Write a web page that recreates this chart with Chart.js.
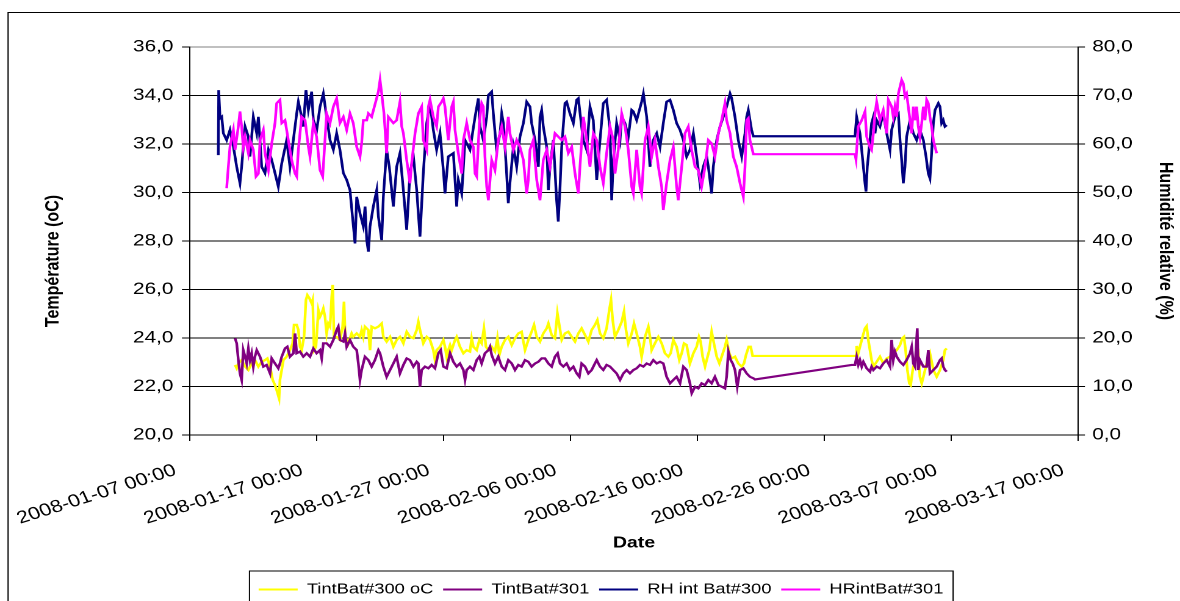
<!DOCTYPE html>
<html>
<head>
<meta charset="utf-8">
<script src="https://cdn.jsdelivr.net/npm/chart.js@4.4.0/dist/chart.umd.min.js"></script>
<style>
html,body{margin:0;padding:0;background:#fff;overflow:hidden;width:1180px;height:601px;}
#wrap{position:absolute;left:0;top:0;width:967px;height:601px;transform:scaleX(1.22027);transform-origin:0 0;}
</style>
</head>
<body>
<div id="wrap"><canvas id="c"></canvas></div>
<script>
// ---------------- data (x = days since 2008-01-07 00:00) ----------------
const xTickLabels = ['2008-01-07 00:00','2008-01-17 00:00','2008-01-27 00:00','2008-02-06 00:00','2008-02-16 00:00','2008-02-26 00:00','2008-03-07 00:00','2008-03-17 00:00'];
const seriesNames = ['TintBat#300 oC','TintBat#301','RH int Bat#300','HRintBat#301'];

const tint300 = [[3.55,22.89],[3.68,22.75],[3.81,22.95],[4.07,23.09],[4.34,22.82],[4.60,22.68],[4.86,22.95],[5.12,23.09],[5.39,22.82],[5.65,23.02],[5.91,23.09],[6.10,23.16],[6.31,22.82],[6.52,22.27],[6.70,22.06],[6.83,21.85],[7.02,21.51],[7.09,22.27],[7.23,22.68],[7.36,23.09],[7.62,23.23],[7.88,23.50],[8.09,23.78],[8.20,24.54],[8.41,24.54],[8.54,24.33],[8.67,23.64],[8.80,23.50],[8.99,24.05],[9.14,25.57],[9.25,25.77],[9.41,25.64],[9.59,25.43],[9.67,25.57],[9.78,23.50],[9.93,23.64],[10.12,25.15],[10.25,24.88],[10.38,25.02],[10.51,25.22],[10.64,24.88],[10.77,24.19],[10.90,24.60],[11.04,24.47],[11.17,25.70],[11.25,26.19],[11.35,24.05],[11.56,24.05],[11.82,23.92],[12.03,24.47],[12.14,25.50],[12.24,24.05],[12.48,23.78],[12.74,24.19],[12.87,24.05],[13.14,24.19],[13.40,24.05],[13.53,24.33],[13.66,24.05],[13.79,24.47],[14.06,24.33],[14.19,23.50],[14.32,24.47],[14.58,24.40],[14.85,24.47],[15.11,24.60],[15.24,24.05],[15.50,23.85],[15.77,24.05],[16.03,23.64],[16.29,23.92],[16.55,24.05],[16.82,23.78],[17.08,24.26],[17.34,24.05],[17.61,23.99],[17.87,24.33],[18.00,24.67],[18.13,24.33],[18.39,23.78],[18.66,24.05],[18.92,23.92],[19.18,23.50],[19.31,23.09],[19.44,23.50],[19.71,23.64],[19.97,23.92],[20.10,23.64],[20.23,23.23],[20.36,23.50],[20.50,23.71],[20.63,23.50],[20.89,23.92],[21.02,24.05],[21.28,23.64],[21.55,23.37],[21.81,23.50],[22.07,23.44],[22.20,23.99],[22.34,23.64],[22.60,23.50],[22.81,23.92],
[22.99,23.78],[23.17,24.40],[23.33,23.64],[23.52,23.50],[23.78,23.64],[24.04,23.44],[24.23,23.99],[24.38,23.30],[24.57,23.64],[24.83,23.92],[25.09,24.05],[25.36,23.71],[25.62,23.99],[25.88,24.19],[26.14,24.26],[26.28,23.85],[26.41,23.50],[26.67,23.92],[26.93,24.26],[27.12,24.54],[27.33,24.05],[27.59,23.85],[27.85,24.19],[28.12,24.40],[28.25,24.60],[28.51,24.12],[28.77,23.99],[28.96,25.02],[29.11,24.54],[29.30,23.92],[29.56,24.19],[29.82,24.26],[30.09,24.05],[30.35,23.85],[30.61,24.19],[30.87,24.40],[31.14,24.12],[31.40,23.85],[31.66,24.33],[31.92,24.54],[32.11,24.74],[32.32,24.19],[32.58,23.99],[32.84,24.40],[33.05,25.15],[33.19,25.57],[33.32,24.74],[33.50,24.05],[33.76,24.33],[34.03,24.67],[34.21,25.09],[34.37,24.33],[34.55,23.78],[34.82,24.19],[35.00,24.60],[35.21,24.19],[35.47,23.64],[35.60,23.23],[35.87,24.05],[36.13,24.47],[36.26,24.05],[36.39,23.50],[36.65,23.78],[36.92,24.05],[37.18,23.78],[37.44,23.37],[37.71,23.23],[37.89,23.37],[38.10,23.92],[38.36,23.64],[38.57,23.09],[38.76,23.37],[38.94,23.78],[39.15,23.71],[39.41,22.95],[39.68,23.37],[39.94,23.64],[40.12,24.05],[40.25,23.85],[40.41,23.23],[40.60,22.82],[40.73,23.09],[40.94,23.50],[41.12,24.26],[41.30,23.78],[41.52,23.23],[41.73,22.95],[41.91,23.23],[42.17,23.64],[42.30,23.92],[42.51,23.37],[42.70,23.16],[42.96,23.23],[43.22,22.95],[43.49,22.82],[43.67,22.95],[43.83,23.30],[44.04,23.64],[44.20,23.64],[44.35,23.26],
[52.50,23.26],[52.55,23.67],[52.68,23.37],[52.81,23.64],[53.02,24.05],[53.21,24.40],[53.34,24.49],[53.47,23.92],[53.60,23.50],[53.73,23.09],[53.87,22.82],[54.13,23.02],[54.39,23.23],[54.65,22.95],[54.92,23.16],[55.18,23.23],[55.44,23.37],[55.71,23.50],[55.97,23.71],[56.15,23.99],[56.28,24.05],[56.41,23.50],[56.55,22.68],[56.70,22.13],[56.81,22.06],[56.97,22.68],[57.15,23.09],[57.41,23.37],[57.54,22.40],[57.68,22.13],[57.81,22.40],[58.07,22.95],[58.33,23.37],[58.60,22.68],[58.86,22.40],[59.12,22.68],[59.38,23.09],[59.51,23.50],[59.65,23.57]];

const tint301 = [[3.55,23.99],[3.68,23.78],[3.81,23.09],[3.94,22.54],[4.07,22.27],[4.20,23.50],[4.34,23.23],[4.47,22.95],[4.60,23.57],[4.73,23.09],[4.86,23.37],[4.99,22.82],[5.12,23.23],[5.26,23.50],[5.52,23.23],[5.78,22.82],[6.04,22.89],[6.31,22.54],[6.44,23.16],[6.70,22.95],[6.96,22.75],[7.09,22.95],[7.23,23.23],[7.49,23.57],[7.67,23.64],[7.88,23.23],[8.15,23.37],[8.28,24.19],[8.41,23.37],[8.67,23.44],[8.93,23.23],[9.20,23.37],[9.46,23.23],[9.72,23.57],[9.98,23.37],[10.25,23.50],[10.38,23.16],[10.51,23.78],[10.77,23.78],[11.04,23.64],[11.30,23.92],[11.56,24.33],[11.69,24.47],[11.82,23.92],[12.09,23.85],[12.22,24.19],[12.35,23.64],[12.61,23.92],[12.87,23.64],[13.14,23.50],[13.27,22.95],[13.40,22.27],[13.53,22.68],[13.79,23.23],[14.06,23.09],[14.32,22.82],[14.58,23.09],[14.85,23.50],[14.98,23.37],[15.24,22.82],[15.50,22.40],[15.77,22.68],[16.03,22.95],[16.29,23.23],[16.55,22.54],[16.82,22.89],[17.08,23.16],[17.34,23.09],[17.61,22.82],[17.87,23.02],[18.00,22.95],[18.13,21.99],[18.26,22.68],[18.52,22.82],[18.79,22.75],[19.05,22.89],[19.31,22.75],[19.58,23.37],[19.76,23.50],[19.97,22.82],[20.23,22.75],[20.50,23.37],[20.76,23.02],[21.02,22.82],[21.28,22.95],[21.55,22.68],[21.68,22.27],[21.81,22.68],[22.07,22.82],[22.34,22.68],[22.60,23.09],[22.81,23.23],
[22.99,22.95],[23.25,23.37],[23.52,23.50],[23.65,23.64],[23.78,23.30],[24.04,22.95],[24.30,23.23],[24.57,22.82],[24.83,22.68],[25.09,23.09],[25.36,22.95],[25.62,22.68],[25.88,22.89],[26.14,22.82],[26.41,23.09],[26.67,23.02],[26.93,22.82],[27.20,22.95],[27.46,23.02],[27.72,23.16],[27.98,23.16],[28.25,22.95],[28.51,22.82],[28.77,23.23],[28.98,23.37],[29.17,22.95],[29.43,22.82],[29.69,22.95],[29.95,22.68],[30.22,22.82],[30.48,22.54],[30.69,22.40],[30.87,22.95],[31.14,22.82],[31.40,22.54],[31.66,22.68],[31.92,22.95],[32.06,23.09],[32.32,22.82],[32.58,22.68],[32.84,22.89],[33.11,22.82],[33.37,22.68],[33.63,22.54],[33.90,22.27],[34.16,22.54],[34.42,22.68],[34.68,22.54],[34.95,22.68],[35.21,22.75],[35.47,22.89],[35.74,22.82],[36.00,22.95],[36.26,22.89],[36.52,23.09],[36.79,22.95],[37.05,23.02],[37.31,22.95],[37.57,22.40],[37.84,22.13],[38.10,22.27],[38.36,22.40],[38.63,22.13],[38.89,22.82],[39.15,22.68],[39.41,22.13],[39.55,21.72],[39.81,21.99],[40.07,21.92],[40.33,22.13],[40.60,22.06],[40.86,22.27],[41.12,22.13],[41.38,22.40],[41.65,22.06],[41.91,21.99],[42.17,21.92],[42.30,22.40],[42.44,23.44],[42.62,23.09],[42.78,22.95],[42.96,22.68],[43.14,21.99],[43.36,22.68],[43.62,22.75],[43.88,22.54],[44.14,22.40],[44.41,22.34],[44.54,22.29],
[52.16,22.89],[52.42,22.89],[52.55,23.23],[52.68,22.89],[52.81,23.09],[52.95,22.82],[53.08,23.02],[53.34,22.75],[53.60,22.61],[53.73,22.82],[53.87,22.68],[54.13,22.82],[54.39,22.75],[54.65,22.95],[54.92,23.09],[55.18,22.82],[55.31,23.92],[55.44,23.09],[55.57,23.44],[55.71,23.23],[55.97,23.02],[56.23,22.89],[56.49,23.09],[56.76,23.37],[56.89,23.64],[57.02,22.95],[57.15,22.82],[57.33,24.40],[57.41,22.68],[57.54,23.09],[57.81,22.82],[58.07,22.82],[58.20,23.50],[58.33,22.54],[58.60,22.68],[58.86,22.82],[59.12,23.09],[59.25,23.16],[59.38,22.82],[59.51,22.68],[59.65,22.61]];

const rh300 = [[2.23,57.7],[2.26,71.1],[2.37,65.3],[2.50,65.6],[2.63,62.2],[2.89,60.8],[3.15,62.9],[3.42,59.5],[3.68,55.3],[3.94,51.9],[4.07,55.3],[4.34,63.6],[4.60,61.5],[4.73,57.4],[4.99,65.6],[5.26,62.2],[5.39,65.6],[5.65,55.3],[5.91,54.0],[6.18,58.8],[6.44,56.7],[6.70,54.0],[6.96,51.2],[7.23,56.0],[7.62,60.8],[7.88,55.3],[8.28,63.6],[8.41,66.3],[8.54,68.7],[8.80,65.6],[8.93,63.6],[9.14,71.1],[9.33,67.0],[9.59,70.8],[9.72,65.0],[9.99,62.9],[10.25,67.7],[10.51,70.4],[10.77,65.6],[11.04,60.8],[11.30,58.8],[11.56,62.2],[11.82,58.8],[12.09,54.0],[12.35,52.6],[12.61,50.5],[12.88,43.0],[13.01,39.5],[13.14,49.1],[13.40,45.7],[13.66,43.0],[13.80,47.1],[13.93,40.2],[14.06,37.8],[14.19,43.0],[14.45,47.1],[14.72,50.5],[14.85,45.0],[15.11,40.2],[15.24,49.1],[15.50,58.8],[15.71,55.3],[16.03,47.1],[16.29,55.3],[16.55,58.1],[16.82,50.5],[17.08,42.3],[17.34,54.0],[17.61,57.4],[17.87,50.5],[18.13,40.9],[18.39,54.0],[18.66,64.3],[18.92,68.4],[19.18,62.9],[19.44,58.8],[19.71,62.2],[19.97,54.6],[20.10,49.8],[20.36,57.4],[20.76,58.1],[21.02,47.1],[21.15,52.6],[21.42,49.8],[21.68,60.8],[22.07,58.8],[22.47,65.6],[22.73,69.4],
[22.86,63.6],[23.12,60.8],[23.39,65.6],[23.52,70.1],[23.78,70.8],[23.91,66.3],[24.17,58.8],[24.44,62.2],[24.57,66.3],[24.70,64.3],[24.83,59.4],[24.96,53.9],[25.09,47.8],[25.22,51.9],[25.49,59.4],[25.75,55.3],[26.01,61.5],[26.28,64.3],[26.54,68.7],[26.80,67.7],[26.93,64.3],[27.20,60.8],[27.46,55.3],[27.59,65.6],[27.72,67.0],[27.85,63.6],[28.12,59.4],[28.25,50.5],[28.38,55.3],[28.64,60.8],[28.90,48.4],[29.03,44.0],[29.17,51.2],[29.30,59.4],[29.56,68.4],[29.69,68.7],[29.95,66.3],[30.22,64.3],[30.48,69.1],[30.61,69.4],[30.87,63.6],[31.01,60.8],[31.27,58.8],[31.53,67.7],[31.79,64.9],[32.06,52.6],[32.32,60.8],[32.58,68.4],[32.84,69.1],[33.11,62.9],[33.24,48.4],[33.37,56.7],[33.63,64.3],[33.90,60.8],[34.03,65.6],[34.29,64.3],[34.55,61.5],[34.82,67.0],[34.95,66.7],[35.21,64.9],[35.60,68.7],[35.74,70.4],[36.00,65.6],[36.26,55.3],[36.52,60.8],[36.79,62.2],[37.05,59.4],[37.31,64.3],[37.57,68.7],[37.84,69.1],[38.10,67.0],[38.36,64.3],[38.63,62.9],[38.89,60.8],[39.15,57.4],[39.41,58.8],[39.68,62.2],[39.94,57.4],[40.20,51.9],[40.46,55.3],[40.73,57.4],[40.86,55.3],[41.12,49.8],[41.25,55.3],[41.52,60.8],[41.78,63.6],[42.04,65.6],[42.30,67.7],[42.57,70.4],[42.70,69.4],[42.96,65.6],[43.22,60.8],[43.49,57.4],[43.75,62.2],[43.88,65.6],[44.01,67.0],[44.27,62.9],[44.41,61.6],
[52.42,61.6],[52.55,65.6],[52.81,62.2],[52.95,58.8],[53.08,55.3],[53.21,51.9],[53.29,50.2],[53.39,55.3],[53.60,60.8],[53.73,64.3],[53.87,65.6],[54.00,62.2],[54.13,64.9],[54.39,63.6],[54.65,66.3],[54.92,62.2],[55.18,58.8],[55.31,62.9],[55.57,65.6],[55.84,66.3],[55.97,60.8],[56.10,56.7],[56.23,51.9],[56.36,55.3],[56.49,61.5],[56.76,64.9],[57.02,62.2],[57.28,60.8],[57.54,62.9],[57.81,60.8],[58.02,57.4],[58.20,53.9],[58.33,52.9],[58.46,58.1],[58.60,64.3],[58.73,67.0],[58.99,68.4],[59.12,67.7],[59.25,64.3],[59.38,64.9],[59.51,63.6],[59.65,63.9]];

const hr301 = [[2.89,50.9],[3.02,55.3],[3.15,59.4],[3.42,62.9],[3.55,58.8],[3.81,63.6],[3.94,66.7],[4.07,63.6],[4.20,59.4],[4.34,61.5],[4.60,58.1],[4.73,60.8],[4.99,58.8],[5.20,53.3],[5.39,53.9],[5.52,60.8],[5.78,62.9],[5.91,58.1],[6.18,54.6],[6.44,60.1],[6.70,64.3],[6.83,68.4],[7.09,69.1],[7.23,64.3],[7.49,64.9],[7.75,60.8],[8.01,56.7],[8.28,53.9],[8.41,53.3],[8.54,58.8],[8.80,65.6],[9.07,64.9],[9.33,59.4],[9.46,57.4],[9.72,64.3],[9.98,61.5],[10.25,54.6],[10.46,53.3],[10.64,60.8],[10.77,66.3],[11.04,64.3],[11.30,67.7],[11.56,69.4],[11.82,64.3],[12.09,65.6],[12.35,62.9],[12.61,66.3],[12.87,64.3],[13.14,59.4],[13.40,57.4],[13.53,60.1],[13.66,64.9],[13.93,64.9],[14.06,66.3],[14.32,65.6],[14.71,69.4],[14.85,70.8],[14.98,73.2],[15.11,70.4],[15.29,66.3],[15.50,58.1],[15.63,65.6],[16.03,64.3],[16.29,64.9],[16.55,68.7],[16.69,63.6],[16.82,62.2],[17.08,56.7],[17.34,51.9],[17.47,56.0],[17.74,62.2],[18.00,66.3],[18.26,67.7],[18.39,60.8],[18.66,58.8],[18.79,67.7],[18.92,69.1],[19.18,65.6],[19.44,63.6],[19.58,67.7],[19.84,68.7],[19.97,69.4],[20.10,67.7],[20.36,60.8],[20.63,67.7],[20.76,68.7],[20.89,62.9],[21.15,58.1],[21.42,53.9],[21.55,60.8],[21.81,64.3],[22.07,60.8],[22.34,59.4],[22.47,53.9],[22.60,53.3],[22.81,64.3],
[22.99,68.4],[23.12,67.7],[23.25,57.4],[23.39,51.2],[23.52,48.4],[23.78,56.7],[24.04,54.6],[24.30,60.8],[24.57,63.6],[24.83,59.4],[25.09,65.6],[25.22,62.2],[25.49,58.8],[25.75,60.8],[26.01,59.4],[26.28,56.7],[26.54,49.8],[26.67,52.6],[26.80,58.8],[27.06,60.8],[27.33,52.6],[27.59,48.4],[27.85,56.7],[28.12,58.8],[28.38,55.3],[28.64,60.1],[28.77,62.2],[29.03,61.5],[29.30,60.8],[29.56,61.5],[29.82,58.1],[30.09,59.4],[30.35,53.9],[30.61,49.8],[30.74,55.3],[31.01,65.6],[31.27,60.8],[31.53,55.3],[31.79,62.2],[32.06,60.8],[32.32,55.3],[32.58,51.9],[32.84,58.1],[33.11,63.6],[33.37,60.8],[33.50,53.9],[33.76,58.8],[34.03,66.3],[34.29,63.6],[34.55,58.8],[34.82,51.2],[34.95,49.8],[35.21,58.8],[35.47,51.2],[35.60,49.8],[35.87,60.8],[36.13,63.6],[36.39,57.4],[36.65,60.8],[36.92,55.3],[37.18,51.2],[37.31,46.4],[37.57,51.9],[37.84,56.7],[38.10,59.4],[38.36,51.2],[38.49,48.4],[38.76,55.3],[39.02,62.2],[39.28,63.6],[39.54,58.8],[39.81,55.3],[40.07,54.6],[40.33,51.2],[40.60,55.3],[40.86,60.8],[41.12,60.1],[41.38,57.4],[41.65,62.2],[41.91,64.9],[42.17,68.4],[42.30,64.9],[42.57,62.2],[42.83,57.4],[43.09,55.3],[43.36,51.9],[43.62,49.1],[43.75,55.3],[43.88,64.9],[44.01,65.3],[44.14,60.8],[44.41,57.9],
[52.42,57.9],[52.50,56.8],[52.68,63.6],[52.95,64.9],[53.21,66.7],[53.34,61.5],[53.60,59.4],[53.73,58.8],[53.87,62.2],[54.00,66.3],[54.13,68.7],[54.39,64.9],[54.65,67.0],[54.79,64.3],[54.92,62.2],[55.05,69.1],[55.31,67.7],[55.44,65.6],[55.57,67.7],[55.71,65.6],[55.84,70.4],[55.97,71.8],[56.10,73.2],[56.23,72.5],[56.36,69.8],[56.49,70.4],[56.62,67.7],[56.76,64.9],[56.89,62.2],[57.02,67.7],[57.15,64.9],[57.28,67.7],[57.41,63.6],[57.54,61.5],[57.68,64.3],[57.81,67.7],[57.94,64.9],[58.07,69.1],[58.20,68.4],[58.33,65.6],[58.46,63.6],[58.60,60.8],[58.73,59.4],[58.86,58.1]];

// ---------------- layout (internal, pre-stretch px) ----------------
const FONT = "'Liberation Sans', Arial, Helvetica, sans-serif";
const W = 967, PLOT_LEFT = 155.7, PLOT_RIGHT = 883.4, PLOT_TOP = 47, PLOT_BOTTOM = 435;
const PAD_LEFT = 18, PAD_BOTTOM = -6;

const toPoints = pairs => pairs.map(p => ({x: p[0], y: p[1]}));
const comma = v => Number(v).toFixed(1).replace('.', ',');

const framePlugin = {
  id: 'frame',
  afterDraw(chart) {
    const ctx = chart.ctx;
    ctx.save();
    ctx.strokeStyle = '#000';
    ctx.lineWidth = 1;
    ctx.beginPath();
    ctx.moveTo(6.6, chart.height + 10);
    ctx.lineTo(6.6, 12.5);
    ctx.lineTo(chart.width + 10, 12.5);
    ctx.stroke();
    const hb = chart.legend && chart.legend.legendHitBoxes;
    if (hb && hb.length) {
      const first = hb[0], last = hb[hb.length - 1];
      const l = first.left - 7.5, r = last.left + last.width + 8, t = first.top - 11;
      ctx.strokeRect(l, t, r - l, chart.height + 20 - t);
    }
    ctx.restore();
  }
};

Chart.defaults.font.family = FONT;
Chart.defaults.color = '#000';

new Chart(document.getElementById('c'), {
  type: 'line',
  data: {
    datasets: [
      {label: seriesNames[0], data: toPoints(tint300), borderColor: '#FFFF00', backgroundColor: '#FFFF00', yAxisID: 'y', order: 4},
      {label: seriesNames[1], data: toPoints(tint301), borderColor: '#800080', backgroundColor: '#800080', yAxisID: 'y', order: 3},
      {label: seriesNames[2], data: toPoints(rh300), borderColor: '#000080', backgroundColor: '#000080', yAxisID: 'y1', order: 2},
      {label: seriesNames[3], data: toPoints(hr301), borderColor: '#FF00FF', backgroundColor: '#FF00FF', yAxisID: 'y1', order: 1}
    ]
  },
  options: {
    responsive: true,
    maintainAspectRatio: false,
    animation: false,
    devicePixelRatio: 2,
    events: [],
    elements: {point: {radius: 0}, line: {borderWidth: 2.2, tension: 0}},
    layout: {padding: {left: PAD_LEFT, right: 0, top: PLOT_TOP, bottom: PAD_BOTTOM}},
    plugins: {
      tooltip: {enabled: false},
      legend: {
        position: 'bottom',
        labels: {
          boxWidth: 32, boxHeight: 2, padding: 8, color: '#000',
          font: {family: FONT, size: 15},
          generateLabels(chart) {
            const items = Chart.defaults.plugins.legend.labels.generateLabels(chart);
            items.forEach(it => { it.fillStyle = it.strokeStyle; it.lineWidth = 0; });
            return items;
          },
          sort: (a, b) => a.datasetIndex - b.datasetIndex
        }
      }
    },
    scales: {
      x: {
        type: 'linear', min: 0, max: 70,
        afterBuildTicks(scale) { scale.ticks = xTickLabels.map((_, i) => ({value: i * 10})); },
        ticks: {
          autoSkip: false, minRotation: 21, maxRotation: 21, labelOffset: -12, padding: 19,
          color: '#000', font: {family: FONT, size: 17.5},
          callback: v => xTickLabels[Math.round(v / 10)]
        },
        grid: {drawOnChartArea: false, drawTicks: true, tickLength: 6, color: '#000', tickColor: '#000', lineWidth: 1},
        border: {color: '#000', width: 1},
        title: {display: true, text: 'Date', color: '#000', font: {family: FONT, size: 16, weight: 'bold'}, padding: {top: 0, bottom: 21.4}},
        afterFit(scale) {
          const lg = scale.chart.legend;
          const lh = lg ? lg.height : 0;
          scale.height = scale.chart.height - PAD_BOTTOM - lh - PLOT_BOTTOM;
        }
      },
      y: {
        position: 'left', min: 20, max: 36,
        ticks: {stepSize: 2, padding: 7, color: '#000', font: {family: FONT, size: 17}, callback: v => comma(v)},
        grid: {
          color: c => (c.tick && c.tick.value === 36) ? '#808080' : '#000000',
          tickColor: '#000', tickLength: 6.6, lineWidth: 1
        },
        border: {color: '#000', width: 1},
        title: {display: true, text: 'Température (oC)' + ' '.repeat(9), color: '#000', font: {family: FONT, size: 16, weight: 'bold'}, padding: {top: 15.8, bottom: 0}},
        afterFit(scale) { scale.width = PLOT_LEFT - PAD_LEFT; }
      },
      y1: {
        position: 'right', min: 0, max: 80,
        ticks: {stepSize: 10, padding: 6, color: '#000', font: {family: FONT, size: 17}, callback: v => comma(v)},
        grid: {drawOnChartArea: false, tickColor: '#000', color: '#000', tickLength: 5.7, lineWidth: 1},
        border: {color: '#000', width: 1},
        title: {display: true, text: 'Humidité relative (%)', color: '#000', font: {family: FONT, size: 16, weight: 'bold'}, padding: {top: 2.7, bottom: 0}},
        afterFit(scale) { scale.width = W - PLOT_RIGHT; }
      }
    }
  },
  plugins: [framePlugin]
});
</script>
</body>
</html>
